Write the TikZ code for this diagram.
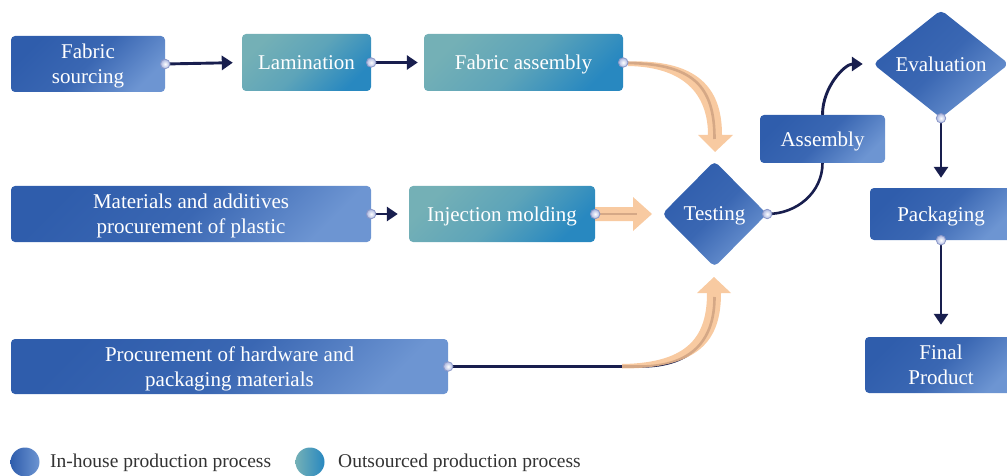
\documentclass[tikz,border=0pt]{standalone}
\usepackage{fontspec}
\setmainfont{Liberation Serif}
\usetikzlibrary{arrows.meta,shapes.geometric,calc}
\definecolor{inA}{HTML}{2F5DAC}
\definecolor{inB}{HTML}{6D95D2}
\definecolor{outA}{HTML}{74B0B6}
\definecolor{outB}{HTML}{2888C0}
\definecolor{navy}{HTML}{181E4E}
\definecolor{peach}{HTML}{F7C190}
\definecolor{dotc}{HTML}{8C98C8}
\definecolor{legtext}{HTML}{333333}
\tikzset{
  boxtext/.style={text=white, font=\fontsize{21}{25}\selectfont, align=center, text depth=0pt},
  inh/.style={boxtext, rectangle, rounded corners=4pt, left color=inA, right color=inB, middle color=inA!82!inB, shading angle=45, draw=none},
  outs/.style={boxtext, rectangle, rounded corners=4pt, left color=outA, right color=outB, middle color=outA!70!outB, shading angle=45, draw=none},
  inhd/.style={boxtext, diamond, inner sep=0pt, rounded corners=5pt, left color=inA, right color=inB, middle color=inA!82!inB, shading angle=45, draw=none},
  conn/.style={draw=navy, line width=2.9pt, -{Triangle[length=11pt,width=14pt]}},
  navyl/.style={draw=navy, line width=2.6pt},
  peachfill/.style={fill=peach, fill opacity=0.85, draw=none},
  dotn/.style={circle, inner sep=0pt, minimum size=9.5pt, draw=dotc, line width=0.8pt, inner color=white, outer color={rgb,255:red,170;green,182;blue,224}},
  legc/.style={circle, inner sep=0pt, minimum size=29pt, shading angle=90},
  legt/.style={anchor=west, inner sep=0pt, text=legtext, font=\fontsize{19.5}{22}\selectfont}
}
\begin{document}
\begin{tikzpicture}[x=1pt,y=-1pt]
\useasboundingbox (0,0) rectangle (1007,476);
% connectors drawn under the nodes
\coordinate (hwbend) at (640,366.5);
\coordinate (faE) at (623.5,63);
\coordinate (hwE) at (448,366.5);
\coordinate (injE) at (595,214);
\coordinate (tN) at (714.5,161);
\coordinate (tS) at (714.5,267);
\coordinate (tW) at (662,214);
\draw[navyl, shorten >=22pt] (faE) .. controls +(70,0) and +(0,-75) .. (tN);
\draw[navyl, shorten >=30pt] (hwE) -- (hwbend) .. controls +(55,0) and +(0,70) .. (tS);
\draw[navyl, shorten >=25pt] (injE) -- (tW);
% nodes
\node[inh, minimum width=154pt, minimum height=56pt] (fs) at (88,64) {Fabric\\sourcing};
\node[outs, minimum width=129pt, minimum height=57pt] (lam) at (306.5,62.5) {Lamination};
\node[outs, minimum width=199pt, minimum height=57pt] (fa) at (523.5,62.5) {Fabric assembly};
\node[inh, minimum width=360pt, minimum height=56pt] (mat) at (191,214) {Materials and additives\\procurement of plastic};
\node[outs, minimum width=186pt, minimum height=56pt] (inj) at (502,214) {Injection molding};
\node[inh, minimum width=437pt, minimum height=55pt] (hw) at (229.5,366.5) {Procurement of hardware and\\packaging materials};
\node[inhd, minimum width=105pt, minimum height=106pt] (test) at (714.5,214) {Testing};
\node[inhd, minimum width=136pt, minimum height=108pt] (eval) at (941,64) {Evaluation};
\draw[navyl] (test.east) to[out=0,in=-90] (822.5,163);
\node[inh, minimum width=125pt, minimum height=48pt] (asm) at (822.5,139) {Assembly};
\draw[conn, shorten >=10pt] (asm.north) to[out=90,in=180] (eval.west);
\node[inh, minimum width=142pt, minimum height=52pt] (pack) at (941,214) {Packaging};
\node[inh, minimum width=152pt, minimum height=56pt] (fin) at (941,365) {Final\\Product};
% straight connectors
\draw[conn, shorten >=9pt] (fs.east) -- (lam.west);
\draw[conn, shorten >=6pt] (lam.east) -- (fa.west);
\draw[conn, shorten >=11pt] (mat.east) -- (inj.west);
\draw[conn, shorten >=10pt] (eval.south) -- (pack.north);
\draw[conn, shorten >=12pt] (pack.south) -- (fin.north);
% peach arrows
\fill[peachfill] (628,61.5) .. controls (705,59) and (722,95) .. (722,135) -- (733,135) -- (715,152) -- (698,135) -- (708,135) .. controls (708,100) and (690,67) .. (628,66) -- cycle;
\fill[peachfill] (595,207) -- (633,207) -- (633,197) -- (652,214) -- (633,231) -- (633,221) -- (595,221) -- cycle;
\fill[peachfill] (622,368.5) .. controls (700,368.5) and (721,340) .. (721,293) -- (731,293) -- (714,277) -- (697,293) -- (707,293) .. controls (707,335) and (690,363) .. (622,364) -- cycle;
% connection dots
\node[dotn] (d1) at (fs.east) {};
\node[dotn] (d2) at (lam.east) {};
\node[dotn] (d3) at (fa.east) {};
\node[dotn] (d4) at (mat.east) {};
\node[dotn] (d5) at (inj.east) {};
\node[dotn] (d6) at (hw.east) {};
\node[dotn] (d7) at (test.east) {};
\node[dotn] (d8) at (eval.south) {};
\node[dotn] (d9) at (pack.south) {};
% legend
\node[legc, left color=inA, right color=inB] (lg1) at (25,462) {};
\node[legt] (lt1) at (50,463) {In-house production process};
\node[legc, left color=outA, right color=outB] (lg2) at (310,462) {};
\node[legt] (lt2) at (338,463) {Outsourced production process};
\end{tikzpicture}
\end{document}
